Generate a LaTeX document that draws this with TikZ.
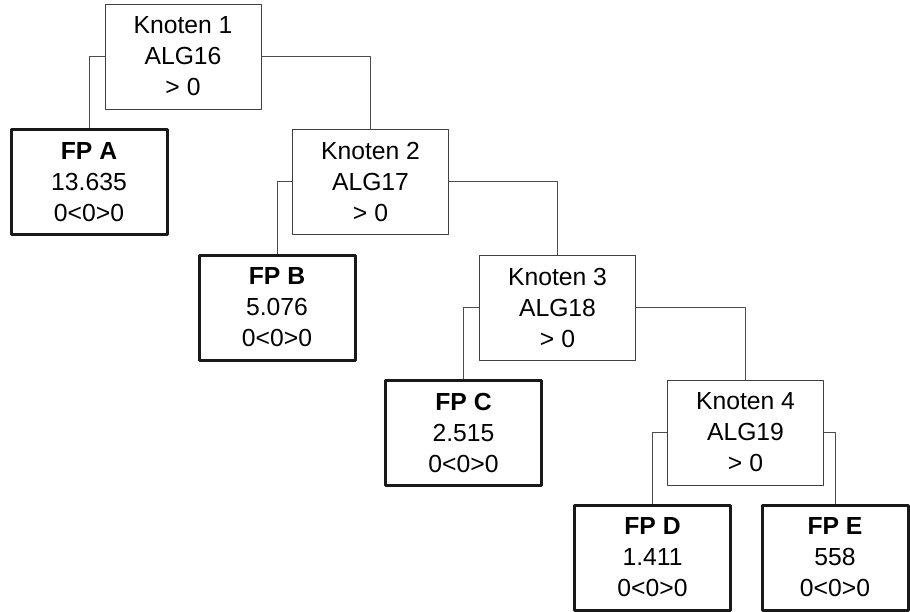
\documentclass[tikz,border=0pt]{standalone}
\usepackage{fontspec}
\setmainfont{Liberation Sans}
\usetikzlibrary{positioning,calc}
\newcommand \myknoten[4]
{
\node[knoten] (#1) at (#2) {Knoten #3\\ALG#4\\> 0};
}
\newcommand \myfp[4]
{
\node[fpbox] (#1) at (#2) {\textbf{FP #3}\\#4\\0<0>0};
}

\begin{document}
\begin{tikzpicture}[x=0.5pt, y=-0.5pt, line join=round,
  knoten/.style={draw=black!75, line width=0.5pt, fill=white, align=center, inner sep=0pt,
    minimum width=78pt, minimum height=52.5pt, font=\fontsize{12.35}{15.5}\selectfont},
  fpbox/.style={knoten, draw=black!90, line width=1.5pt},
  ast/.style={draw=black!70, line width=0.5pt}]
\useasboundingbox (0,0) rectangle (910,611);
\coordinate (c1) at (183,56.5);
\coordinate (c2) at (370.5,181.5);
\coordinate (c3) at (557.5,307.5);
\coordinate (c4) at (745.5,432.5);
\coordinate (ca) at (89,182);
\coordinate (cb) at (277,307.5);
\coordinate (cc) at (463.5,432.5);
\coordinate (cd) at (652.5,557.5);
\coordinate (ce) at (835,557.5);
\myknoten{k1}{c1}{1}{16}
\myknoten{k2}{c2}{2}{17}
\myknoten{k3}{c3}{3}{18}
\myknoten{k4}{c4}{4}{19}
\myfp{fpa}{ca}{A}{13.635}
\myfp{fpb}{cb}{B}{5.076}
\myfp{fpc}{cc}{C}{2.515}
\myfp{fpd}{cd}{D}{1.411}
\node[fpbox, minimum width=73pt] (fpe) at (ce) {\textbf{FP E}\\558\\0<0>0};
% Verbindungen
\foreach \k/\l/\r in {k1/fpa/k2, k2/fpb/k3, k3/fpc/k4, k4/fpd/fpe}
{
\draw[ast] (\k.west) -| (\l.north);
\draw[ast] (\k.east) -| (\r.north);
}
\end{tikzpicture}
\end{document}
